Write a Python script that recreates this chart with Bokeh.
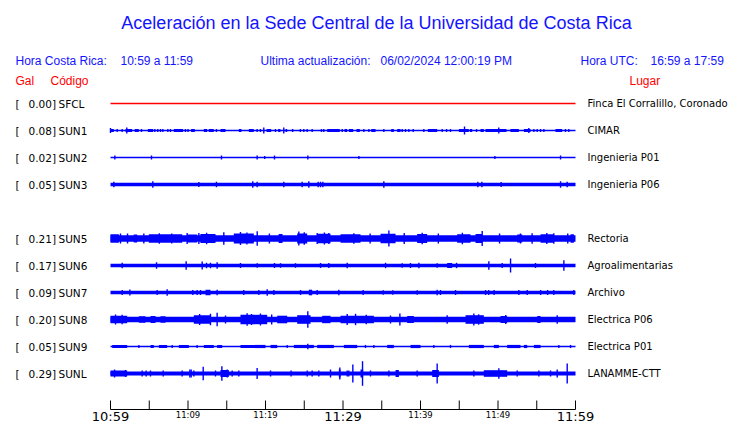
from bokeh.plotting import figure
from bokeh.models import Range1d
from bokeh.embed import file_html
from bokeh.resources import INLINE
from bokeh.core.properties import value

# ---------------- data ----------------
TITLE = "Aceleración en la Sede Central de la Universidad de Costa Rica"
HEADER_LEFT = ["Hora Costa Rica:", "10:59 a 11:59"]
HEADER_MID = ["Ultima actualización:", "06/02/2024 12:00:19 PM"]
HEADER_RIGHT = ["Hora UTC:", "16:59 a 17:59"]
COL_HEADS = ["Gal", "Código", "Lugar"]

CODES = ["SFCL", "SUN1", "SUN2", "SUN3", "SUN4", "SUN5", "SUN6", "SUN7", "SUN8", "SUN9", "SUNL"]
GAL = [0.00, 0.08, 0.02, 0.05, None, 0.21, 0.17, 0.09, 0.20, 0.05, 0.29]
PLACES = ["Finca El Corralillo, Coronado", "CIMAR", "Ingenieria P01", "Ingenieria P06", "",
          "Rectoria", "Agroalimentarias", "Archivo", "Electrica P06", "Electrica P01", "LANAMME-CTT"]

T_SPAN = [0, 60]  # minutes after 10:59
TICK_MINUTES = [0, 5, 10, 15, 20, 25, 30, 35, 40, 45, 50, 55, 60]
TICK_LABELS = ["10:59", "", "11:09", "", "11:19", "", "11:29", "", "11:39", "", "11:49", "", "11:59"]
MAJOR_LABEL_MINUTES = [0, 30, 60]

# amplitudes in display counts (27 counts = one trace spacing)
COUNTS_PER_ROW = 27.0

SFCL_BASE = 0
SFCL_BURSTS = []
SFCL_SPIKES = []

SUN1_BASE = 0
SUN1_BURSTS = [(0.0, 0.43, 1.5), (1.42, 1.59, 1.5), (1.93, 2.79, 1.5), (3.13, 3.65, 1.5), (4.81, 5.5, 1.5),
               (8.17, 9.37, 1.5), (10.4, 10.88, 1.5), (12.04, 12.47, 1.5), (12.68, 13.33, 1.5),
               (14.19, 14.84, 1.5), (16.56, 16.9, 1.5), (17.85, 18.49, 1.5), (20.13, 20.73, 1.5),
               (21.63, 21.93, 1.5), (22.58, 22.8, 1.5), (27.96, 29.59, 1.5), (30.2, 30.54, 1.5),
               (30.76, 31.31, 1.5), (31.74, 32.17, 1.5), (33.64, 34.2, 1.5), (36.22, 36.56, 1.5),
               (37.0, 37.42, 1.5), (40.95, 42.15, 1.5), (44.95, 46.24, 1.5), (46.37, 46.67, 1.5),
               (47.74, 48.17, 1.5), (48.39, 51.1, 1.5), (51.6, 52.69, 1.5), (53.34, 54.2, 1.5),
               (57.42, 58.28, 1.5)]
SUN1_SPIKES = [(0.0, 2.5), (0.86, 1.5), (2.1, 3), (4.0, 1.5), (5.72, 1.5), (6.1, 1.5), (6.45, 1.5),
               (6.75, 1.5), (7.4, 1.5), (7.74, 1.5), (9.67, 1.5), (10.0, 1.5), (13.67, 1.5), (18.92, 1.5),
               (19.35, 1.5), (19.78, 3), (21.29, 1.5), (22.36, 3), (23.5, 1.5), (24.5, 1.5), (24.94, 1.5),
               (25.37, 1.5), (26.02, 1.5), (27.22, 1.5), (27.52, 1.5), (29.9, 1.5), (32.69, 1.5),
               (33.34, 1.5), (35.27, 1.5), (37.64, 1.5), (38.07, 1.5), (38.5, 1.5), (39.06, 1.5),
               (40.43, 1.5), (42.8, 1.5), (43.36, 1.5), (43.87, 1.5), (45.68, 4), (47.23, 1.5),
               (50.1, 3), (53.98, 2.5), (54.63, 1.5), (55.06, 1.5), (55.49, 1.5), (55.92, 1.5),
               (58.71, 1.5), (59.14, 1.5)]

SUN2_BASE = 0
SUN2_BURSTS = []
SUN2_SPIKES = [(0.56, 2), (5.29, 2), (14.32, 2), (18.92, 2), (19.9, 1.5), (21.16, 2), (25.46, 2),
               (32.05, 1.5), (49.6, 1.5), (58.07, 2)]

SUN3_BASE = 1.8
SUN3_BURSTS = []
SUN3_SPIKES = [(0.43, 2.8), (5.46, 3.2), (11.4, 2.5), (13.67, 2.8), (18.36, 3.2), (18.92, 2.8),
               (22.36, 2.8), (24.73, 2.8), (25.59, 3.2), (26.8, 2.8), (27.1, 2.8), (27.4, 2.8),
               (35.27, 3.2), (47.4, 2.8), (47.92, 2.8), (50.41, 2.5), (58.07, 3.2), (58.93, 2.8)]

SUN5_BASE = 3.3
SUN5_BURSTS = [(0.0, 1.08, 4.3), (3.0, 3.44, 4.0), (4.95, 9.25, 4.3), (9.89, 11.18, 4.0), (11.6, 13.55, 4.5),
               (15.91, 18.49, 5.0), (21.7, 22.2, 4.5), (24.09, 25.38, 5.0), (26.67, 28.39, 4.7),
               (29.68, 32.26, 4.3), (34.84, 36.78, 4.7), (39.57, 40.86, 4.5), (44.73, 46.45, 4.3),
               (47.1, 47.96, 4.5), (52.48, 53.12, 4.0), (55.49, 57.21, 4.3), (59.36, 59.79, 4.3)]
SUN5_SPIKES = [(1.29, 5.0), (4.3, 5.0), (9.89, 5.5), (11.4, 5.5), (14.62, 6.3), (16.77, 6.5), (18.93, 7.3),
               (24.3, 7.0), (26.67, 5.5), (28.17, 5.5), (31.4, 5.3), (35.92, 8.0), (40.22, 5.7),
               (47.96, 7.5), (52.9, 5.0), (57.2, 5.3), (2.2, 5.0), (6.3, 5.3), (7.9, 5.0), (12.4, 5.8),
               (17.6, 6.0), (20.5, 5.0), (25.0, 6.2), (27.6, 6.0), (33.5, 5.0), (37.9, 5.5), (42.3, 5.0),
               (45.4, 5.8), (50.2, 5.0), (54.4, 5.2), (56.3, 5.5), (59.0, 5.0)]

SUN6_BASE = 1.7
SUN6_BURSTS = [(43.44, 44.09, 2.5)]
SUN6_SPIKES = [(1.51, 2.7), (5.94, 3.3), (9.76, 4.3), (11.83, 4.0), (12.39, 2.7), (12.9, 2.7), (13.76, 3.3),
               (16.77, 2.5), (18.93, 2.3), (21.16, 2.5), (21.94, 2.3), (23.87, 2.3), (27.1, 2.5),
               (28.17, 2.5), (30.54, 2.7), (35.49, 2.7), (37.64, 2.3), (38.71, 2.5), (39.79, 2.7),
               (42.15, 2.3), (44.65, 2.7), (48.82, 4.3), (50.54, 2.5), (51.62, 7.0), (54.84, 2.5),
               (58.5, 5.3)]

SUN7_BASE = 1.8
SUN7_BURSTS = [(12.26, 12.9, 2.7), (25.59, 26.02, 2.8)]
SUN7_SPIKES = [(1.51, 2.5), (2.5, 3.0), (6.02, 2.5), (7.31, 3.3), (10.62, 2.5), (11.18, 2.5), (11.61, 2.5),
               (13.76, 2.7), (17.2, 2.5), (19.14, 2.5), (20.22, 3.3), (21.08, 2.5), (24.52, 2.5),
               (26.67, 2.5), (29.46, 2.7), (32.6, 2.5), (35.19, 2.3), (36.43, 2.3), (39.57, 2.3),
               (42.15, 2.8), (42.58, 2.5), (44.52, 2.5), (48.4, 2.5), (48.8, 2.5), (49.5, 2.5),
               (52.69, 2.5), (53.77, 2.5), (55.5, 2.5), (56.4, 2.5), (57.2, 2.5), (59.79, 2.5)]

SUN8_BASE = 2.7
SUN8_BURSTS = [(0.0, 2.15, 3.7), (3.66, 4.52, 3.3), (5.16, 5.81, 3.5), (6.45, 7.1, 3.3), (10.75, 12.9, 4.3),
               (16.77, 20.22, 4.7), (21.51, 22.8, 3.8), (24.09, 25.81, 4.3), (27.31, 28.39, 3.7),
               (29.68, 33.98, 3.7), (38.28, 39.14, 3.5), (45.81, 48.17, 4.3), (50.32, 51.18, 3.5),
               (55.06, 55.49, 3.5)]
SUN8_SPIKES = [(0.65, 5.0), (12.9, 5.7), (13.76, 6.7), (14.84, 4.0), (17.63, 6.3), (19.35, 6.0),
               (25.46, 8.3), (30.54, 5.5), (31.62, 5.7), (36.13, 4.0), (37.34, 6.0), (43.44, 4.3),
               (46.88, 6.0), (57.64, 4.3), (1.5, 4.8), (11.5, 5.5), (18.2, 5.5), (20.8, 5.0),
               (33.0, 4.8), (47.5, 5.2), (51.0, 4.5)]

SUN9_BASE = 0
SUN9_BURSTS = [(0.22, 2.15, 1.6), (5.16, 5.59, 1.6), (6.24, 7.31, 1.6), (8.82, 10.11, 1.6), (12.04, 13.33, 1.6),
               (13.76, 14.41, 1.6), (16.77, 20.0, 1.6), (20.65, 21.51, 1.6), (23.66, 26.24, 1.6),
               (26.67, 28.82, 1.6), (30.11, 31.83, 1.6), (35.7, 36.56, 1.6), (38.71, 40.0, 1.6),
               (46.24, 48.17, 1.6), (49.46, 50.11, 1.6), (51.18, 52.9, 1.6), (53.34, 53.77, 1.6),
               (54.63, 55.49, 1.6)]
SUN9_SPIKES = [(3.66, 1.6), (7.96, 1.6), (11.18, 1.6), (22.8, 1.6), (25.46, 2.7), (32.9, 1.6), (33.98, 1.6),
               (41.72, 1.6), (43.87, 1.6), (57.85, 1.6), (59.36, 1.6)]

SUNL_BASE = 2.0
SUNL_BURSTS = [(0.0, 2.15, 3.0), (14.19, 15.27, 3.5), (29.46, 29.68, 4.0), (32.26, 32.6, 4.0),
               (36.78, 37.21, 3.5), (41.51, 42.37, 3.5), (48.17, 51.18, 3.3)]
SUNL_SPIKES = [(0.52, 4.0), (1.94, 3.5), (4.09, 3.0), (4.6, 3.0), (5.16, 3.0), (6.8, 3.0), (9.25, 3.0),
               (10.24, 4.0), (10.41, 4.0), (10.75, 3.0), (11.96, 6.7), (13.55, 3.0), (14.37, 7.3),
               (15.05, 4.0), (15.7, 3.0), (16.56, 3.0), (18.92, 5.5), (20.65, 3.0), (23.3, 3.0),
               (25.38, 3.0), (26.02, 3.0), (26.88, 3.0), (28.39, 4.0), (29.59, 6.0), (30.75, 3.0),
               (30.54, 3.0), (31.27, 9.0), (32.52, 12.3), (33.55, 3.0), (35.92, 3.0), (39.57, 3.0),
               (42.15, 10.0), (46.88, 3.0), (50.11, 5.3), (52.48, 3.0), (55.27, 3.0), (56.78, 3.0),
               (57.64, 4.0), (58.93, 10.0)]

TRACES = {
    "SFCL": (SFCL_BASE, SFCL_BURSTS, SFCL_SPIKES),
    "SUN1": (SUN1_BASE, SUN1_BURSTS, SUN1_SPIKES),
    "SUN2": (SUN2_BASE, SUN2_BURSTS, SUN2_SPIKES),
    "SUN3": (SUN3_BASE, SUN3_BURSTS, SUN3_SPIKES),
    "SUN5": (SUN5_BASE, SUN5_BURSTS, SUN5_SPIKES),
    "SUN6": (SUN6_BASE, SUN6_BURSTS, SUN6_SPIKES),
    "SUN7": (SUN7_BASE, SUN7_BURSTS, SUN7_SPIKES),
    "SUN8": (SUN8_BASE, SUN8_BURSTS, SUN8_SPIKES),
    "SUN9": (SUN9_BASE, SUN9_BURSTS, SUN9_SPIKES),
    "SUNL": (SUNL_BASE, SUNL_BURSTS, SUNL_SPIKES),
}

# ---------------- layout ----------------
W, H = 740, 423
OFF = 0
X_LEFT_PX, X_RIGHT_PX = 110, 575   # where 0 and 60 minutes fall (picture px)
ROW0_PX, ROW_PX = 103, 27
PX_PER_MIN = (X_RIGHT_PX - X_LEFT_PX) / (T_SPAN[1] - T_SPAN[0])


def tx(px):
    return (px - X_LEFT_PX) / PX_PER_MIN


def ry(py):
    return (py - ROW0_PX) / ROW_PX


BLUE = "#0000ff"
TXT_BLUE = "#1414ff"
RED = "#ff0000"
SANS = value("Liberation Sans")
DJV = value("DejaVu Sans")

p = figure(width=W, height=H, output_backend="svg", toolbar_location=None,
           x_range=Range1d(tx(OFF), tx(OFF + W)),
           y_range=Range1d(ry(OFF + H), ry(OFF)),
           x_axis_location=None, y_axis_location=None, min_border=0,
           tools="")
p.grid.visible = False
p.outline_line_color = None
p.background_fill_color = "white"
p.border_fill_color = "white"

# header texts
p.text(x=[tx(376)], y=[ry(22)], text=[TITLE], text_font=SANS, text_font_size="18px",
       text_color=TXT_BLUE, text_align="center", text_baseline="middle")
p.text(x=[tx(15), tx(120), tx(260), tx(380), tx(580), tx(650)], y=[ry(60)] * 6,
       text=HEADER_LEFT + HEADER_MID + HEADER_RIGHT, text_font=SANS, text_font_size="12px",
       text_color=TXT_BLUE, text_align="left", text_baseline="middle")
p.text(x=[tx(15), tx(50), tx(629)], y=[ry(80)] * 3, text=COL_HEADS, text_font=SANS,
       text_font_size="12px", text_color=RED, text_align="left", text_baseline="middle")

# traces
for i, code in enumerate(CODES):
    if GAL[i] is None:
        continue
    base, bursts, spikes = TRACES[code]
    col = RED if code == "SFCL" else BLUE
    if base == 0:
        p.line(x=T_SPAN, y=[i, i], line_color=col, line_width=1.3)
    else:
        h = base / COUNTS_PER_ROW
        p.quad(left=[T_SPAN[0]], right=[T_SPAN[1]], top=[i - h], bottom=[i + h],
               fill_color=col, line_color=None)
    if bursts:
        p.quad(left=[b[0] for b in bursts], right=[b[1] for b in bursts],
               top=[i - b[2] / COUNTS_PER_ROW for b in bursts],
               bottom=[i + b[2] / COUNTS_PER_ROW for b in bursts],
               fill_color=col, line_color=None)
    if spikes:
        p.segment(x0=[s[0] for s in spikes], x1=[s[0] for s in spikes],
                  y0=[i - s[1] / COUNTS_PER_ROW for s in spikes],
                  y1=[i + s[1] / COUNTS_PER_ROW for s in spikes],
                  line_color=col, line_width=1.4)

# row labels
rows = [i for i, g in enumerate(GAL) if g is not None]
p.text(x=[tx(15)] * len(rows), y=rows, text=["["] * len(rows), text_font=DJV,
       text_font_size="10.5px", text_color="black", text_baseline="middle")
p.text(x=[tx(28)] * len(rows), y=rows, text=[f"{GAL[i]:.2f}]" for i in rows], text_font=DJV,
       text_font_size="10.5px", text_color="black", text_baseline="middle")
p.text(x=[tx(58)] * len(rows), y=rows, text=[CODES[i] for i in rows], text_font=DJV,
       text_font_size="10.5px", text_color="black", text_baseline="middle")
p.text(x=[tx(587)] * len(rows), y=rows, text=[PLACES[i] for i in rows], text_font=DJV,
       text_font_size="10px", text_color="black", text_baseline="middle")

# time axis (drawn on the same scale)
AX_Y = ry(409)
p.line(x=T_SPAN, y=[AX_Y, AX_Y], line_color="black", line_width=1)
p.segment(x0=TICK_MINUTES, x1=TICK_MINUTES, y0=[ry(400)] * len(TICK_MINUTES),
          y1=[AX_Y] * len(TICK_MINUTES), line_color="black", line_width=1)
big = [(m, l) for m, l in zip(TICK_MINUTES, TICK_LABELS) if l and m in MAJOR_LABEL_MINUTES]
small = [(m, l) for m, l in zip(TICK_MINUTES, TICK_LABELS) if l and m not in MAJOR_LABEL_MINUTES]
p.text(x=[m for m, _ in big], y=[ry(408.5)] * len(big), text=[l for _, l in big], text_font=DJV,
       text_font_size="13px", text_color="black", text_align="center", text_baseline="top")
p.text(x=[m for m, _ in small], y=[ry(409)] * len(small), text=[l for _, l in small], text_font=DJV,
       text_font_size="8.5px", text_color="black", text_align="center", text_baseline="top")

open("out.html", "w").write(file_html(p, INLINE))
